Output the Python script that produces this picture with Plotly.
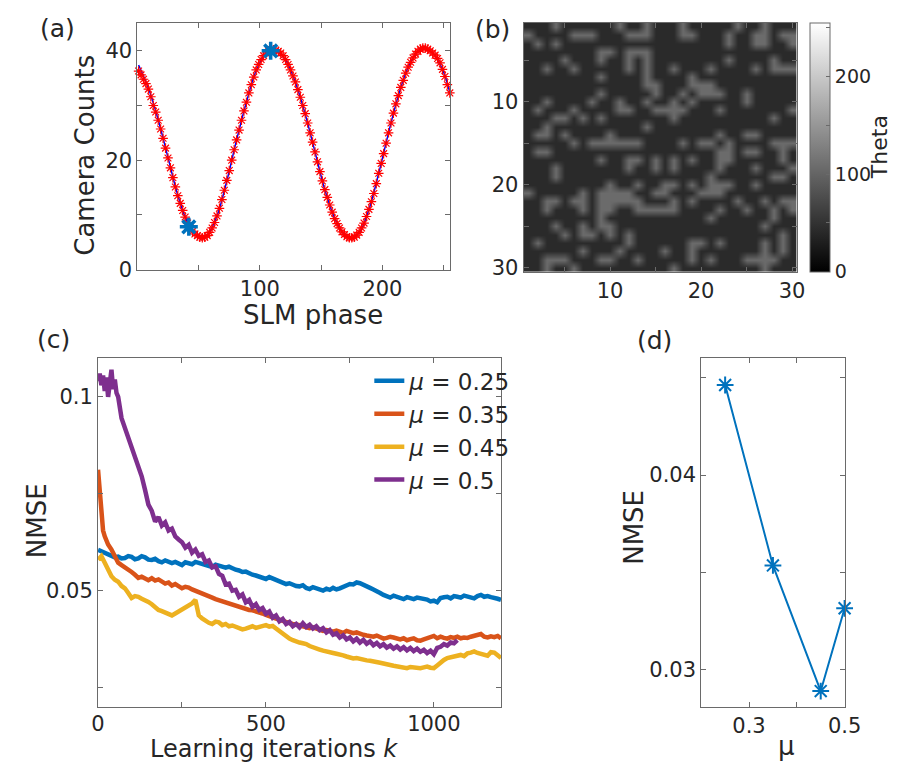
import plotly.graph_objects as go

W, H = 902, 765
FONT = "DejaVu Sans"
TXT = "#262626"
AX = "#6a6a6a"

# ---------------- (a) SLM phase scan ----------------
slm_phase = list(range(1, 256, 2))
camera_counts = [36.3, 35.6, 34.8, 34.0, 33.0, 31.6, 30.0, 28.8, 27.3, 25.7, 24.0, 22.2, 20.4,
                 18.6, 16.8, 15.1, 13.5, 12.1, 10.8, 9.6, 8.5, 7.7, 7.0, 6.5, 6.2, 5.9, 5.8,
                 5.9, 6.2, 6.8, 7.6, 8.6, 9.8, 11.2, 12.8, 14.5, 16.3, 18.1, 20.0, 21.9, 23.7,
                 25.5, 27.3, 29.0, 30.6, 32.3, 33.8, 35.2, 36.5, 37.5, 38.4, 39.1, 39.6, 40.0,
                 40.2, 40.2, 40.1, 39.9, 39.6, 39.1, 38.4, 37.5, 36.5, 35.4, 34.3, 32.9, 31.5,
                 30.0, 28.5, 26.8, 25.0, 23.3, 21.5, 19.7, 17.9, 16.2, 14.6, 13.2, 11.8, 10.5,
                 9.3, 8.4, 7.6, 6.9, 6.4, 6.0, 5.8, 5.8, 5.9, 6.3, 6.8, 7.6, 8.5, 9.7, 11.0,
                 12.4, 13.9, 15.7, 17.6, 19.4, 21.2, 23.1, 25.0, 26.8, 28.6, 30.3, 31.8, 33.3,
                 34.6, 35.9, 37.0, 37.9, 38.7, 39.4, 39.9, 40.3, 40.5, 40.5, 40.3, 40.0, 39.6,
                 39.2, 38.6, 37.8, 36.6, 35.3, 33.8, 32.3]
fit_phase = [1, 9, 17, 25, 33, 41, 49, 53, 57, 65, 73, 81, 89, 97, 105, 109, 113, 121, 129, 137,
             145, 153, 161, 169, 175, 181, 189, 197, 205, 213, 221, 229, 235, 241, 249, 255]
fit_counts = [37.4, 33.2, 27.4, 20.5, 13.6, 8.6, 6.2, 5.9, 6.3, 9.8, 16.2, 23.7, 30.6, 36.4,
              39.5, 40.1, 40.0, 38.3, 34.2, 28.4, 21.5, 14.6, 9.4, 6.4, 5.8, 6.7, 11.0, 17.6,
              25.0, 31.8, 37.0, 39.9, 40.5, 39.6, 36.6, 32.4]
selected_phase = [42, 108.8]
selected_counts = [7.8, 40.0]

# ---------------- (b) Theta pattern (30 x 30) ----------------
theta_low, theta_high = 42, 107
light_cells = {
    1: [4, 11, 14, 18, 24, 27],
    2: [1, 6, 7, 8, 12, 13, 14, 18, 19, 23, 26, 27, 29, 30],
    3: [2, 4, 23, 26, 27, 30],
    4: [9, 10, 12, 13, 14],
    5: [5, 9, 12, 14, 23, 28],
    6: [3, 6, 12, 14, 17, 21, 26, 28, 29, 30],
    7: [9, 14, 19],
    8: [14, 15, 19, 20, 21],
    9: [9, 15, 18, 20, 21, 22, 25],
    10: [3, 8, 11, 14, 17, 19, 25],
    11: [2, 6, 11, 12, 15, 16, 17, 18, 22, 30],
    12: [4, 5, 7, 9, 17, 28],
    13: [3, 14],
    14: [2, 3, 5, 10, 22, 25, 26],
    15: [6, 8, 9, 10, 11, 12, 13, 18, 20, 21, 23, 28, 29, 30],
    16: [2, 3, 22, 23, 25, 26, 29],
    17: [9, 12, 13, 15, 17, 19, 22, 23, 29],
    18: [4, 12, 15, 17, 22, 26, 30],
    19: [4, 21, 28, 29],
    20: [10, 13, 16, 17, 19, 21, 22, 23, 26],
    21: [1, 7, 9, 10, 11, 12, 15, 16, 20, 21, 22],
    22: [3, 4, 6, 7, 9, 10, 11, 12, 13, 17, 19, 24, 27, 29, 30],
    23: [3, 7, 9, 10, 13, 14, 15, 16, 17, 22, 25, 28, 30],
    24: [9, 21, 28],
    25: [4, 7, 9, 10, 27],
    26: [5, 7, 8, 10, 12, 29],
    27: [2, 12, 19, 20, 22, 27, 29],
    28: [7, 11, 16, 19, 27, 29],
    29: [3, 4, 5, 9, 10, 13, 19, 21, 25, 26, 27, 28],
    30: [3, 6, 17, 27],
}
pix = list(range(1, 31))

# ---------------- (c) learning curves ----------------
k_blue = list(range(0, 1201, 10))
nmse_025 = [0.0605, 0.0601, 0.0598, 0.0594, 0.0591, 0.0586, 0.0588, 0.0583, 0.0584, 0.0589,
            0.0587, 0.0581, 0.0583, 0.0589, 0.0586, 0.0580, 0.0579, 0.0582, 0.0576, 0.0573,
            0.0578, 0.0575, 0.0571, 0.0574, 0.0569, 0.0566, 0.0573, 0.0570, 0.0568, 0.0574,
            0.0571, 0.0567, 0.0566, 0.0563, 0.0561, 0.0567, 0.0564, 0.0561, 0.0559, 0.0562,
            0.0557, 0.0554, 0.0552, 0.0548, 0.0549, 0.0544, 0.0541, 0.0539, 0.0537, 0.0533,
            0.0530, 0.0535, 0.0532, 0.0527, 0.0524, 0.0520, 0.0517, 0.0519, 0.0515, 0.0512,
            0.0511, 0.0514, 0.0507, 0.0504, 0.0509, 0.0505, 0.0503, 0.0500, 0.0505, 0.0502,
            0.0507, 0.0503, 0.0506, 0.0509, 0.0513, 0.0517, 0.0516, 0.0521, 0.0519, 0.0516,
            0.0511, 0.0507, 0.0503, 0.0497, 0.0494, 0.0489, 0.0485, 0.0482, 0.0487, 0.0484,
            0.0481, 0.0478, 0.0483, 0.0480, 0.0478, 0.0482, 0.0480, 0.0476, 0.0477, 0.0472,
            0.0474, 0.0470, 0.0481, 0.0483, 0.0484, 0.0480, 0.0486, 0.0484, 0.0482, 0.0487,
            0.0485, 0.0481, 0.0480, 0.0486, 0.0489, 0.0484, 0.0486, 0.0483, 0.0482, 0.0479,
            0.0476]
k_orange = [0, 5, 10, 15, 20, 25, 30] + list(range(40, 1201, 10))
nmse_035 = [0.0812, 0.0745, 0.0690, 0.0655, 0.0640, 0.0628, 0.0619,
            0.0606, 0.0590, 0.0572, 0.0566, 0.0561, 0.0556, 0.0548, 0.0541, 0.0533, 0.0536,
            0.0531, 0.0527, 0.0532, 0.0526, 0.0529, 0.0523, 0.0518, 0.0521, 0.0513, 0.0517,
            0.0512, 0.0506, 0.0510, 0.0508, 0.0503, 0.0500, 0.0497, 0.0492, 0.0489, 0.0485,
            0.0482, 0.0478, 0.0475, 0.0471, 0.0468, 0.0466, 0.0463, 0.0459, 0.0456, 0.0453,
            0.0452, 0.0450, 0.0449, 0.0447, 0.0445, 0.0441, 0.0437, 0.0433, 0.0430, 0.0428,
            0.0425, 0.0421, 0.0419, 0.0416, 0.0414, 0.0413, 0.0411, 0.0408, 0.0406, 0.0403,
            0.0405, 0.0401, 0.0399, 0.0396, 0.0398, 0.0395, 0.0394, 0.0397, 0.0393, 0.0391,
            0.0396, 0.0392, 0.0390, 0.0392, 0.0388, 0.0386, 0.0384, 0.0383, 0.0381, 0.0384,
            0.0379, 0.0376, 0.0378, 0.0381, 0.0379, 0.0375, 0.0374, 0.0377, 0.0372, 0.0375,
            0.0377, 0.0372, 0.0371, 0.0374, 0.0376, 0.0379, 0.0383, 0.0377, 0.0381, 0.0378,
            0.0376, 0.0380, 0.0378, 0.0381, 0.0377, 0.0379, 0.0378, 0.0381, 0.0384, 0.0386,
            0.0388, 0.0381, 0.0379, 0.0382, 0.0380, 0.0383, 0.0377]
k_yellow = list(range(0, 1201, 10))
nmse_045 = [0.0580, 0.0589, 0.0572, 0.0552, 0.0537, 0.0528, 0.0523, 0.0512, 0.0506, 0.0494,
            0.0481, 0.0486, 0.0484, 0.0479, 0.0476, 0.0471, 0.0465, 0.0456, 0.0450, 0.0447,
            0.0444, 0.0440, 0.0436, 0.0441, 0.0446, 0.0451, 0.0455, 0.0461, 0.0467, 0.0476,
            0.0436, 0.0428, 0.0422, 0.0417, 0.0414, 0.0420, 0.0418, 0.0411, 0.0414, 0.0408,
            0.0410, 0.0406, 0.0404, 0.0400, 0.0402, 0.0405, 0.0408, 0.0404, 0.0406, 0.0409,
            0.0411, 0.0407, 0.0409, 0.0402, 0.0395, 0.0388, 0.0382, 0.0376, 0.0372, 0.0368,
            0.0366, 0.0364, 0.0362, 0.0357, 0.0353, 0.0351, 0.0348, 0.0345, 0.0342, 0.0340,
            0.0339, 0.0337, 0.0336, 0.0333, 0.0330, 0.0328, 0.0325, 0.0326, 0.0323, 0.0321,
            0.0320, 0.0319, 0.0318, 0.0315, 0.0314, 0.0312, 0.0311, 0.0308, 0.0306, 0.0304,
            0.0303, 0.0301, 0.0300, 0.0303, 0.0302, 0.0299, 0.0300, 0.0302, 0.0304, 0.0301,
            0.0300, 0.0307, 0.0315, 0.0321, 0.0326, 0.0328, 0.0330, 0.0333, 0.0334, 0.0331,
            0.0338, 0.0340, 0.0343, 0.0339, 0.0337, 0.0335, 0.0332, 0.0341, 0.0340, 0.0333,
            0.0326]
k_purple = list(range(0, 61, 5)) + list(range(70, 1071, 10))
nmse_05 = [0.1040, 0.1060, 0.1030, 0.1055, 0.1015, 0.1050, 0.1000, 0.1040, 0.1070, 0.1020,
           0.1045, 0.1010, 0.1000,
           0.0945, 0.0920, 0.0895, 0.0870, 0.0845, 0.0818, 0.0795, 0.0760, 0.0722, 0.0706,
           0.0678, 0.0690, 0.0668, 0.0676, 0.0655, 0.0660, 0.0640, 0.0632, 0.0625, 0.0611,
           0.0618, 0.0598, 0.0606, 0.0590, 0.0594, 0.0574, 0.0578, 0.0560, 0.0563, 0.0543,
           0.0538, 0.0516, 0.0518, 0.0500, 0.0502, 0.0484, 0.0490, 0.0470, 0.0476, 0.0458,
           0.0465, 0.0450, 0.0455, 0.0440, 0.0446, 0.0430, 0.0436, 0.0421, 0.0427, 0.0414,
           0.0419, 0.0408, 0.0414, 0.0405, 0.0416, 0.0406, 0.0412, 0.0402, 0.0408, 0.0398,
           0.0403, 0.0392, 0.0398, 0.0386, 0.0390, 0.0379, 0.0385, 0.0374, 0.0379, 0.0369,
           0.0376, 0.0366, 0.0373, 0.0363, 0.0369, 0.0359, 0.0365, 0.0356, 0.0362, 0.0353,
           0.0358, 0.0350, 0.0356, 0.0348, 0.0354, 0.0346, 0.0352, 0.0344, 0.0350, 0.0342,
           0.0347, 0.0339, 0.0345, 0.0336, 0.0352, 0.0355, 0.0362, 0.0358, 0.0366, 0.0364,
           0.0372]

# ---------------- (d) final NMSE vs mu ----------------
mu_values = [0.25, 0.35, 0.45, 0.5]
final_nmse = [0.04462, 0.03536, 0.02891, 0.03316]

series_c = [
    ("0.25", k_blue, nmse_025, "#0072BD"),
    ("0.35", k_orange, nmse_035, "#D95319"),
    ("0.45", k_yellow, nmse_045, "#EDB120"),
    ("0.5", k_purple, nmse_05, "#7E2F8E"),
]


def px_x(x0, x1):
    return [x0 / W, x1 / W]


def px_y(top, bottom):
    return [1 - bottom / H, 1 - top / H]


fig = go.Figure()

# (a)
fig.add_trace(go.Scatter(x=fit_phase, y=fit_counts, mode="lines",
                         line=dict(color="#0000FF", width=1.5, shape="spline"),
                         xaxis="x", yaxis="y", showlegend=False))
fig.add_trace(go.Scatter(x=slm_phase, y=camera_counts, mode="markers",
                         marker=dict(symbol="asterisk-open", size=8, color="#FF0000",
                                     line=dict(color="#FF0000", width=1.2)),
                         xaxis="x", yaxis="y", showlegend=False, cliponaxis=False))
fig.add_trace(go.Scatter(x=selected_phase, y=selected_counts, mode="markers",
                         marker=dict(symbol="asterisk-open", size=15, color="#0072BD",
                                     line=dict(color="#0072BD", width=3.5)),
                         xaxis="x", yaxis="y", showlegend=False))

# (b)
z = []
for r in pix:
    row = []
    for c in pix:
        row.append(theta_high if c in light_cells[r] else theta_low)
    z.append(row)
fig.add_trace(go.Heatmap(
    x=pix, y=pix, z=z, zmin=0, zmax=255, zsmooth="best",
    colorscale=[[0, "#000000"], [1, "#FFFFFF"]],
    xaxis="x2", yaxis="y2",
    colorbar=dict(
        x=817 / W, xanchor="left", xpad=0, y=1 - 15 / H, yanchor="top", ypad=0,
        len=253 / H, lenmode="fraction", thickness=20, thicknessmode="pixels",
        outlinecolor=AX, outlinewidth=1,
        tickvals=[0, 50, 100, 150, 200, 250], ticktext=["0", "", "100", "", "200", ""],
        ticks="inside", ticklen=4, tickcolor=AX,
        tickfont=dict(family=FONT, size=19, color=TXT),
    ),
))

# (c)
for mu, kk, vals, col in series_c:
    fig.add_trace(go.Scatter(x=kk, y=vals, mode="lines", name="<i>μ</i> = " + mu,
                             line=dict(color=col, width=4.5),
                             xaxis="x3", yaxis="y3", showlegend=True))

# (d)
fig.add_trace(go.Scatter(x=mu_values, y=final_nmse, mode="lines+markers",
                         line=dict(color="#0072BD", width=2),
                         marker=dict(symbol="asterisk-open", size=14, color="#0072BD",
                                     line=dict(color="#0072BD", width=2)),
                         xaxis="x4", yaxis="y4", showlegend=False, cliponaxis=False))

axis_common = dict(showline=True, linecolor=AX, linewidth=1, mirror="ticks", ticks="inside",
                   ticklen=5, tickcolor=AX, showgrid=False, zeroline=False,
                   tickfont=dict(family=FONT, size=21, color=TXT))

fig.update_layout(
    width=W, height=H, margin=dict(l=0, r=0, t=0, b=0),
    paper_bgcolor="white", plot_bgcolor="white",
    font=dict(family=FONT, color=TXT),
    xaxis=dict(domain=px_x(125.7, 446.7), range=[0, 255], anchor="y",
               tickvals=[50, 100, 150, 200, 250], ticktext=["", "100", "", "200", ""], **axis_common),
    yaxis=dict(domain=px_y(15.7, 265.7), range=[0, 45], anchor="x",
               tickvals=[0, 10, 20, 30, 40], ticktext=["0", "", "20", "", "40"], **axis_common),
    xaxis2=dict(domain=px_x(522.5, 803), range=[0.5, 30.5], anchor="y2",
                tickvals=[5, 10, 15, 20, 25, 30], ticktext=["", "10", "", "20", "", "30"], **axis_common),
    yaxis2=dict(domain=px_y(15, 268), range=[30.5, 0.5], anchor="x2",
                tickvals=[5, 10, 15, 20, 25, 30], ticktext=["", "10", "", "20", "", "30"], **axis_common),
    xaxis3=dict(domain=px_x(85.3, 499.3), range=[0, 1200], anchor="y3", ticklabelstandoff=-2,
                tickvals=[0, 250, 500, 750, 1000], ticktext=["0", "", "500", "", "1000"], **axis_common),
    yaxis3=dict(domain=px_y(355.7, 710), range=[0.02, 0.11], anchor="x3",
                tickvals=[0.025, 0.05, 0.075, 0.1], ticktext=["", "0.05", "", "0.1"], **axis_common),
    xaxis4=dict(domain=px_x(705, 852.3), range=[0.2, 0.5], anchor="y4",
                tickvals=[0.3, 0.4, 0.5], ticktext=["0.3", "", "0.5"], **axis_common),
    yaxis4=dict(domain=px_y(355.7, 710), range=[0.0281, 0.046], anchor="x4",
                tickvals=[0.03, 0.035, 0.04, 0.045], ticktext=["0.03", "", "0.04", ""], **axis_common),
    legend=dict(x=364 / W, y=1 - 357 / H, xanchor="left", yanchor="top",
                bgcolor="rgba(0,0,0,0)", borderwidth=0, tracegroupgap=0,
                font=dict(family=FONT, size=23, color=TXT)),
)


def label(text, x, y, size, angle=0):
    fig.add_annotation(text=text, x=x / W, y=1 - y / H, xref="paper", yref="paper",
                       showarrow=False, textangle=angle, xanchor="center", yanchor="middle",
                       font=dict(family=FONT, size=size, color=TXT))


label("(a)", 44, 21, 25)
label("(b)", 491, 22, 25)
label("(c)", 40, 337, 25)
label("(d)", 657, 338, 25)
label("Camera Counts", 72, 150, 26, -90)
label("SLM phase", 306, 312, 26)
label("Theta", 888, 141, 22, -90)
label("NMSE", 22, 521, 26, -90)
label("Learning iterations <i>k</i>", 266, 753, 24)
label("NMSE", 636, 528, 26, -90)
label("μ", 793, 750, 26)

fig.write_html("out.html")
